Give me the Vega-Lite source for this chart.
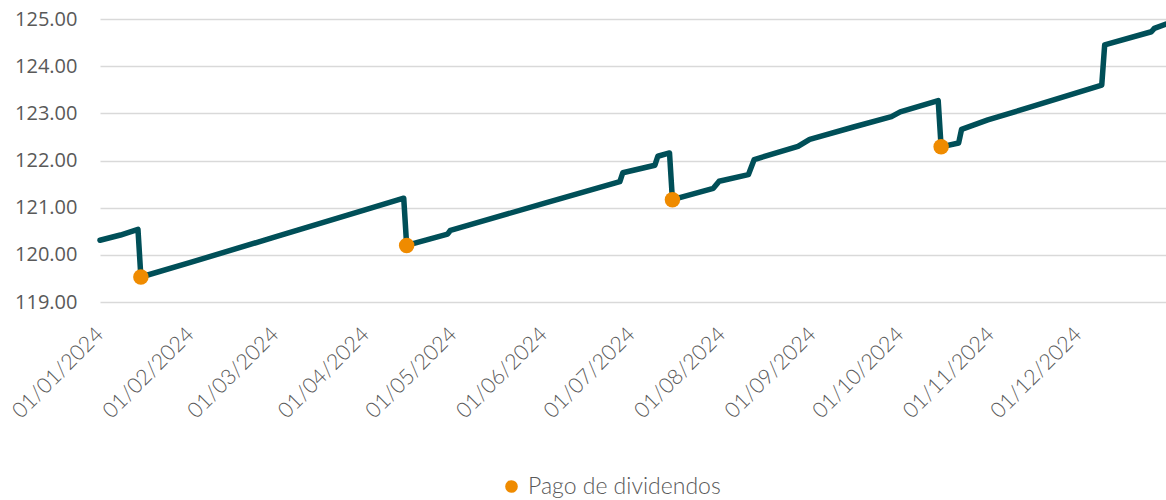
{
  "$schema": "https://vega.github.io/schema/vega-lite/v6.json",
  "width": 1066,
  "height": 283,
  "autosize": {"type": "none"},
  "padding": {"left": 100, "top": 19, "right": 0, "bottom": 198},
  "background": "white",
  "config": {"view": {"stroke": null}},
  "datasets": {
    "nav": [
      {"date": "2024-01-01", "value": 120.31},
      {"date": "2024-01-08", "value": 120.42},
      {"date": "2024-01-14", "value": 120.54},
      {"date": "2024-01-15", "value": 119.53},
      {"date": "2024-02-01", "value": 119.84},
      {"date": "2024-03-01", "value": 120.38},
      {"date": "2024-04-01", "value": 120.96},
      {"date": "2024-04-14", "value": 121.2},
      {"date": "2024-04-15", "value": 120.2},
      {"date": "2024-04-29", "value": 120.44},
      {"date": "2024-04-30", "value": 120.52},
      {"date": "2024-06-01", "value": 121.09},
      {"date": "2024-06-27", "value": 121.55},
      {"date": "2024-06-28", "value": 121.74},
      {"date": "2024-07-09", "value": 121.9},
      {"date": "2024-07-10", "value": 122.09},
      {"date": "2024-07-14", "value": 122.16},
      {"date": "2024-07-15", "value": 121.17},
      {"date": "2024-07-29", "value": 121.41},
      {"date": "2024-07-31", "value": 121.56},
      {"date": "2024-08-10", "value": 121.7},
      {"date": "2024-08-12", "value": 122.02},
      {"date": "2024-08-27", "value": 122.3},
      {"date": "2024-08-31", "value": 122.45},
      {"date": "2024-09-15", "value": 122.71},
      {"date": "2024-09-28", "value": 122.93},
      {"date": "2024-10-01", "value": 123.03},
      {"date": "2024-10-14", "value": 123.27},
      {"date": "2024-10-15", "value": 122.29},
      {"date": "2024-10-21", "value": 122.37},
      {"date": "2024-10-22", "value": 122.66},
      {"date": "2024-10-31", "value": 122.86},
      {"date": "2024-11-15", "value": 123.14},
      {"date": "2024-12-09", "value": 123.6},
      {"date": "2024-12-10", "value": 124.45},
      {"date": "2024-12-26", "value": 124.73},
      {"date": "2024-12-27", "value": 124.8},
      {"date": "2024-12-31", "value": 124.89}
    ],
    "div": [
      {"date": "2024-01-15", "value": 119.53, "serie": "Pago de dividendos"},
      {"date": "2024-04-15", "value": 120.2, "serie": "Pago de dividendos"},
      {"date": "2024-07-15", "value": 121.17, "serie": "Pago de dividendos"},
      {"date": "2024-10-15", "value": 122.29, "serie": "Pago de dividendos"}
    ]
  },
  "encoding": {
    "x": {
      "field": "date",
      "type": "temporal",
      "timeUnit": "utcyearmonthdate",
      "title": null,
      "scale": {"domain": [
        {"year": 2024, "month": 1, "date": 1, "utc": true},
        {"year": 2024, "month": 12, "date": 31, "utc": true}
      ]},
      "axis": {
        "values": [
          {"year": 2024, "month": 1, "date": 1, "utc": true},
          {"year": 2024, "month": 2, "date": 1, "utc": true},
          {"year": 2024, "month": 3, "date": 1, "utc": true},
          {"year": 2024, "month": 4, "date": 1, "utc": true},
          {"year": 2024, "month": 5, "date": 1, "utc": true},
          {"year": 2024, "month": 6, "date": 1, "utc": true},
          {"year": 2024, "month": 7, "date": 1, "utc": true},
          {"year": 2024, "month": 8, "date": 1, "utc": true},
          {"year": 2024, "month": 9, "date": 1, "utc": true},
          {"year": 2024, "month": 10, "date": 1, "utc": true},
          {"year": 2024, "month": 11, "date": 1, "utc": true},
          {"year": 2024, "month": 12, "date": 1, "utc": true}
        ],
        "format": "%d/%m/%Y",
        "labelAngle": -45,
        "labelAlign": "right",
        "labelBaseline": "middle",
        "labelPadding": 29,
        "labelFont": "Lato",
        "labelFontWeight": 300,
        "labelFontSize": 21.5,
        "labelColor": "#595959",
        "labelOverlap": false,
        "labelFlush": false,
        "labelLimit": 0,
        "ticks": false,
        "tickSize": 0,
        "domain": false,
        "grid": false
      }
    },
    "y": {
      "field": "value",
      "type": "quantitative",
      "title": null,
      "scale": {"domain": [119, 125], "zero": false, "nice": false},
      "axis": {
        "values": [119, 120, 121, 122, 123, 124, 125],
        "format": ".2f",
        "labelFont": "Open Sans",
        "labelFontSize": 20,
        "labelColor": "#595959",
        "labelPadding": 23,
        "ticks": false,
        "domain": false,
        "grid": true,
        "gridColor": "#d9d9d9",
        "gridWidth": 1.5
      }
    }
  },
  "layer": [
    {
      "data": {"name": "nav"},
      "mark": {"type": "line", "color": "#004f58", "strokeWidth": 5.5, "strokeJoin": "round", "strokeCap": "round", "clip": false}
    },
    {
      "data": {"name": "div"},
      "mark": {"type": "point", "filled": true, "shape": "circle", "size": 240, "opacity": 1},
      "encoding": {
        "color": {
          "field": "serie",
          "type": "nominal",
          "scale": {"range": ["#ef8b00"]},
          "legend": {
            "title": null,
            "orient": "none",
            "legendX": 400,
            "legendY": 456,
            "labelFont": "Lato",
            "labelFontWeight": 300,
            "labelFontSize": 23,
            "labelColor": "#595959",
            "labelLimit": 0,
            "symbolSize": 160,
            "symbolType": "circle",
            "symbolStrokeWidth": 0,
            "labelOffset": 5
          }
        }
      }
    }
  ]
}
